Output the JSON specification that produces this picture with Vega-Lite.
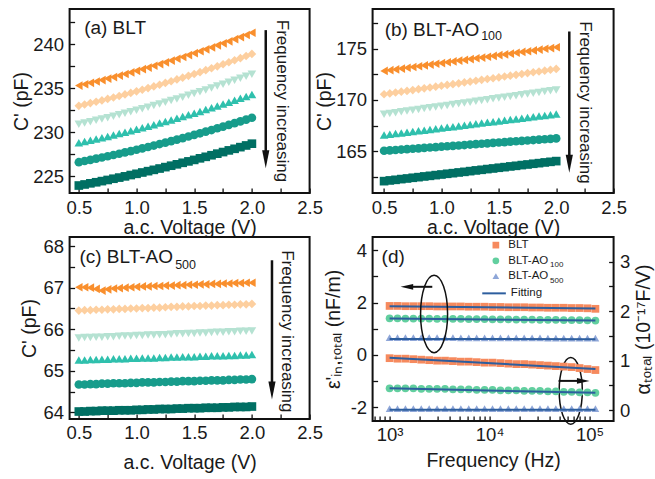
{
"$schema": "https://vega.github.io/schema/vega-lite/v6.json",
"background": "white",
"padding": {"left": 10.6, "top": 8, "right": 0, "bottom": 5},
"config": {
  "font": "Liberation Sans",
  "view": {"stroke": "#111111", "strokeWidth": 2},
  "axis": {"domain": false, "grid": false, "tickSize": 5, "offset": -5, "tickWidth": 1.3, "tickColor": "#111111",
    "labelFont": "Liberation Sans", "labelFontSize": 18.5, "labelColor": "#1a1a1a",
    "labelFlush": false, "labelOverlap": false,
    "titleFont": "Liberation Sans", "titleFontSize": 19.5, "titleFontWeight": "normal", "titleColor": "#1a1a1a", "titlePadding": 4},
  "axisX": {"labelPadding": 5},
  "axisY": {"labelPadding": 6}
},
"datasets": {
"a": [
{"v":0.5,"c":223.95,"s":"1"},{"v":0.55,"c":224.07,"s":"1"},{"v":0.6,"c":224.2,"s":"1"},{"v":0.65,"c":224.32,"s":"1"},{"v":0.7,"c":224.45,"s":"1"},{"v":0.75,"c":224.58,"s":"1"},{"v":0.8,"c":224.72,"s":"1"},{"v":0.85,"c":224.85,"s":"1"},{"v":0.9,"c":224.99,"s":"1"},{"v":0.95,"c":225.14,"s":"1"},{"v":1,"c":225.28,"s":"1"},{"v":1.05,"c":225.43,"s":"1"},{"v":1.1,"c":225.58,"s":"1"},{"v":1.15,"c":225.73,"s":"1"},{"v":1.2,"c":225.88,"s":"1"},{"v":1.25,"c":226.04,"s":"1"},{"v":1.3,"c":226.2,"s":"1"},{"v":1.35,"c":226.36,"s":"1"},{"v":1.4,"c":226.53,"s":"1"},{"v":1.45,"c":226.69,"s":"1"},{"v":1.5,"c":226.86,"s":"1"},{"v":1.55,"c":227.04,"s":"1"},{"v":1.6,"c":227.21,"s":"1"},{"v":1.65,"c":227.39,"s":"1"},{"v":1.7,"c":227.57,"s":"1"},{"v":1.75,"c":227.75,"s":"1"},{"v":1.8,"c":227.94,"s":"1"},{"v":1.85,"c":228.12,"s":"1"},{"v":1.9,"c":228.31,"s":"1"},{"v":1.95,"c":228.5,"s":"1"},{"v":2,"c":228.7,"s":"1"},
{"v":0.5,"c":226.6,"s":"2"},{"v":0.55,"c":226.73,"s":"2"},{"v":0.6,"c":226.86,"s":"2"},{"v":0.65,"c":227.0,"s":"2"},{"v":0.7,"c":227.13,"s":"2"},{"v":0.75,"c":227.27,"s":"2"},{"v":0.8,"c":227.42,"s":"2"},{"v":0.85,"c":227.56,"s":"2"},{"v":0.9,"c":227.71,"s":"2"},{"v":0.95,"c":227.86,"s":"2"},{"v":1,"c":228.01,"s":"2"},{"v":1.05,"c":228.17,"s":"2"},{"v":1.1,"c":228.33,"s":"2"},{"v":1.15,"c":228.49,"s":"2"},{"v":1.2,"c":228.66,"s":"2"},{"v":1.25,"c":228.82,"s":"2"},{"v":1.3,"c":228.99,"s":"2"},{"v":1.35,"c":229.16,"s":"2"},{"v":1.4,"c":229.34,"s":"2"},{"v":1.45,"c":229.52,"s":"2"},{"v":1.5,"c":229.7,"s":"2"},{"v":1.55,"c":229.88,"s":"2"},{"v":1.6,"c":230.07,"s":"2"},{"v":1.65,"c":230.25,"s":"2"},{"v":1.7,"c":230.45,"s":"2"},{"v":1.75,"c":230.64,"s":"2"},{"v":1.8,"c":230.84,"s":"2"},{"v":1.85,"c":231.04,"s":"2"},{"v":1.9,"c":231.24,"s":"2"},{"v":1.95,"c":231.44,"s":"2"},{"v":2,"c":231.65,"s":"2"},
{"v":0.5,"c":228.8,"s":"3"},{"v":0.55,"c":228.94,"s":"3"},{"v":0.6,"c":229.08,"s":"3"},{"v":0.65,"c":229.23,"s":"3"},{"v":0.7,"c":229.38,"s":"3"},{"v":0.75,"c":229.53,"s":"3"},{"v":0.8,"c":229.69,"s":"3"},{"v":0.85,"c":229.85,"s":"3"},{"v":0.9,"c":230.01,"s":"3"},{"v":0.95,"c":230.17,"s":"3"},{"v":1,"c":230.34,"s":"3"},{"v":1.05,"c":230.51,"s":"3"},{"v":1.1,"c":230.68,"s":"3"},{"v":1.15,"c":230.86,"s":"3"},{"v":1.2,"c":231.04,"s":"3"},{"v":1.25,"c":231.22,"s":"3"},{"v":1.3,"c":231.4,"s":"3"},{"v":1.35,"c":231.59,"s":"3"},{"v":1.4,"c":231.78,"s":"3"},{"v":1.45,"c":231.98,"s":"3"},{"v":1.5,"c":232.17,"s":"3"},{"v":1.55,"c":232.37,"s":"3"},{"v":1.6,"c":232.58,"s":"3"},{"v":1.65,"c":232.78,"s":"3"},{"v":1.7,"c":232.99,"s":"3"},{"v":1.75,"c":233.2,"s":"3"},{"v":1.8,"c":233.41,"s":"3"},{"v":1.85,"c":233.63,"s":"3"},{"v":1.9,"c":233.85,"s":"3"},{"v":1.95,"c":234.07,"s":"3"},{"v":2,"c":234.3,"s":"3"},
{"v":0.5,"c":230.9,"s":"4"},{"v":0.55,"c":231.05,"s":"4"},{"v":0.6,"c":231.2,"s":"4"},{"v":0.65,"c":231.35,"s":"4"},{"v":0.7,"c":231.5,"s":"4"},{"v":0.75,"c":231.66,"s":"4"},{"v":0.8,"c":231.82,"s":"4"},{"v":0.85,"c":231.99,"s":"4"},{"v":0.9,"c":232.15,"s":"4"},{"v":0.95,"c":232.32,"s":"4"},{"v":1,"c":232.5,"s":"4"},{"v":1.05,"c":232.67,"s":"4"},{"v":1.1,"c":232.85,"s":"4"},{"v":1.15,"c":233.03,"s":"4"},{"v":1.2,"c":233.22,"s":"4"},{"v":1.25,"c":233.41,"s":"4"},{"v":1.3,"c":233.6,"s":"4"},{"v":1.35,"c":233.79,"s":"4"},{"v":1.4,"c":233.99,"s":"4"},{"v":1.45,"c":234.19,"s":"4"},{"v":1.5,"c":234.4,"s":"4"},{"v":1.55,"c":234.6,"s":"4"},{"v":1.6,"c":234.81,"s":"4"},{"v":1.65,"c":235.03,"s":"4"},{"v":1.7,"c":235.24,"s":"4"},{"v":1.75,"c":235.46,"s":"4"},{"v":1.8,"c":235.68,"s":"4"},{"v":1.85,"c":235.91,"s":"4"},{"v":1.9,"c":236.13,"s":"4"},{"v":1.95,"c":236.37,"s":"4"},{"v":2,"c":236.6,"s":"4"},
{"v":0.5,"c":233.0,"s":"5"},{"v":0.55,"c":233.15,"s":"5"},{"v":0.6,"c":233.31,"s":"5"},{"v":0.65,"c":233.46,"s":"5"},{"v":0.7,"c":233.62,"s":"5"},{"v":0.75,"c":233.79,"s":"5"},{"v":0.8,"c":233.95,"s":"5"},{"v":0.85,"c":234.12,"s":"5"},{"v":0.9,"c":234.3,"s":"5"},{"v":0.95,"c":234.47,"s":"5"},{"v":1,"c":234.65,"s":"5"},{"v":1.05,"c":234.83,"s":"5"},{"v":1.1,"c":235.02,"s":"5"},{"v":1.15,"c":235.21,"s":"5"},{"v":1.2,"c":235.4,"s":"5"},{"v":1.25,"c":235.6,"s":"5"},{"v":1.3,"c":235.79,"s":"5"},{"v":1.35,"c":236.0,"s":"5"},{"v":1.4,"c":236.2,"s":"5"},{"v":1.45,"c":236.41,"s":"5"},{"v":1.5,"c":236.62,"s":"5"},{"v":1.55,"c":236.83,"s":"5"},{"v":1.6,"c":237.05,"s":"5"},{"v":1.65,"c":237.27,"s":"5"},{"v":1.7,"c":237.49,"s":"5"},{"v":1.75,"c":237.72,"s":"5"},{"v":1.8,"c":237.95,"s":"5"},{"v":1.85,"c":238.18,"s":"5"},{"v":1.9,"c":238.42,"s":"5"},{"v":1.95,"c":238.66,"s":"5"},{"v":2,"c":238.9,"s":"5"},
{"v":0.5,"c":235.3,"s":"6"},{"v":0.55,"c":235.45,"s":"6"},{"v":0.6,"c":235.61,"s":"6"},{"v":0.65,"c":235.77,"s":"6"},{"v":0.7,"c":235.93,"s":"6"},{"v":0.75,"c":236.1,"s":"6"},{"v":0.8,"c":236.27,"s":"6"},{"v":0.85,"c":236.44,"s":"6"},{"v":0.9,"c":236.62,"s":"6"},{"v":0.95,"c":236.8,"s":"6"},{"v":1,"c":236.98,"s":"6"},{"v":1.05,"c":237.17,"s":"6"},{"v":1.1,"c":237.35,"s":"6"},{"v":1.15,"c":237.55,"s":"6"},{"v":1.2,"c":237.74,"s":"6"},{"v":1.25,"c":237.94,"s":"6"},{"v":1.3,"c":238.14,"s":"6"},{"v":1.35,"c":238.35,"s":"6"},{"v":1.4,"c":238.55,"s":"6"},{"v":1.45,"c":238.77,"s":"6"},{"v":1.5,"c":238.98,"s":"6"},{"v":1.55,"c":239.2,"s":"6"},{"v":1.6,"c":239.42,"s":"6"},{"v":1.65,"c":239.64,"s":"6"},{"v":1.7,"c":239.87,"s":"6"},{"v":1.75,"c":240.1,"s":"6"},{"v":1.8,"c":240.33,"s":"6"},{"v":1.85,"c":240.57,"s":"6"},{"v":1.9,"c":240.81,"s":"6"},{"v":1.95,"c":241.05,"s":"6"},{"v":2,"c":241.3,"s":"6"}
],
"b": [
{"v":0.5,"c":162.06,"s":"1"},{"v":0.55,"c":162.13,"s":"1"},{"v":0.6,"c":162.19,"s":"1"},{"v":0.65,"c":162.26,"s":"1"},{"v":0.7,"c":162.32,"s":"1"},{"v":0.75,"c":162.39,"s":"1"},{"v":0.8,"c":162.45,"s":"1"},{"v":0.85,"c":162.52,"s":"1"},{"v":0.9,"c":162.58,"s":"1"},{"v":0.95,"c":162.65,"s":"1"},{"v":1,"c":162.71,"s":"1"},{"v":1.05,"c":162.78,"s":"1"},{"v":1.1,"c":162.84,"s":"1"},{"v":1.15,"c":162.91,"s":"1"},{"v":1.2,"c":162.97,"s":"1"},{"v":1.25,"c":163.04,"s":"1"},{"v":1.3,"c":163.11,"s":"1"},{"v":1.35,"c":163.17,"s":"1"},{"v":1.4,"c":163.24,"s":"1"},{"v":1.45,"c":163.3,"s":"1"},{"v":1.5,"c":163.37,"s":"1"},{"v":1.55,"c":163.43,"s":"1"},{"v":1.6,"c":163.5,"s":"1"},{"v":1.65,"c":163.56,"s":"1"},{"v":1.7,"c":163.63,"s":"1"},{"v":1.75,"c":163.69,"s":"1"},{"v":1.8,"c":163.76,"s":"1"},{"v":1.85,"c":163.82,"s":"1"},{"v":1.9,"c":163.89,"s":"1"},{"v":1.95,"c":163.95,"s":"1"},{"v":2,"c":164.02,"s":"1"},
{"v":0.5,"c":165.03,"s":"2"},{"v":0.55,"c":165.07,"s":"2"},{"v":0.6,"c":165.11,"s":"2"},{"v":0.65,"c":165.15,"s":"2"},{"v":0.7,"c":165.19,"s":"2"},{"v":0.75,"c":165.23,"s":"2"},{"v":0.8,"c":165.27,"s":"2"},{"v":0.85,"c":165.31,"s":"2"},{"v":0.9,"c":165.35,"s":"2"},{"v":0.95,"c":165.39,"s":"2"},{"v":1,"c":165.43,"s":"2"},{"v":1.05,"c":165.47,"s":"2"},{"v":1.1,"c":165.51,"s":"2"},{"v":1.15,"c":165.55,"s":"2"},{"v":1.2,"c":165.59,"s":"2"},{"v":1.25,"c":165.64,"s":"2"},{"v":1.3,"c":165.68,"s":"2"},{"v":1.35,"c":165.72,"s":"2"},{"v":1.4,"c":165.76,"s":"2"},{"v":1.45,"c":165.8,"s":"2"},{"v":1.5,"c":165.84,"s":"2"},{"v":1.55,"c":165.88,"s":"2"},{"v":1.6,"c":165.92,"s":"2"},{"v":1.65,"c":165.96,"s":"2"},{"v":1.7,"c":166.0,"s":"2"},{"v":1.75,"c":166.04,"s":"2"},{"v":1.8,"c":166.08,"s":"2"},{"v":1.85,"c":166.12,"s":"2"},{"v":1.9,"c":166.16,"s":"2"},{"v":1.95,"c":166.2,"s":"2"},{"v":2,"c":166.24,"s":"2"},
{"v":0.5,"c":166.57,"s":"3"},{"v":0.55,"c":166.64,"s":"3"},{"v":0.6,"c":166.71,"s":"3"},{"v":0.65,"c":166.78,"s":"3"},{"v":0.7,"c":166.84,"s":"3"},{"v":0.75,"c":166.91,"s":"3"},{"v":0.8,"c":166.98,"s":"3"},{"v":0.85,"c":167.05,"s":"3"},{"v":0.9,"c":167.12,"s":"3"},{"v":0.95,"c":167.19,"s":"3"},{"v":1,"c":167.26,"s":"3"},{"v":1.05,"c":167.33,"s":"3"},{"v":1.1,"c":167.39,"s":"3"},{"v":1.15,"c":167.46,"s":"3"},{"v":1.2,"c":167.53,"s":"3"},{"v":1.25,"c":167.6,"s":"3"},{"v":1.3,"c":167.67,"s":"3"},{"v":1.35,"c":167.74,"s":"3"},{"v":1.4,"c":167.81,"s":"3"},{"v":1.45,"c":167.88,"s":"3"},{"v":1.5,"c":167.94,"s":"3"},{"v":1.55,"c":168.01,"s":"3"},{"v":1.6,"c":168.08,"s":"3"},{"v":1.65,"c":168.15,"s":"3"},{"v":1.7,"c":168.22,"s":"3"},{"v":1.75,"c":168.29,"s":"3"},{"v":1.8,"c":168.36,"s":"3"},{"v":1.85,"c":168.43,"s":"3"},{"v":1.9,"c":168.49,"s":"3"},{"v":1.95,"c":168.56,"s":"3"},{"v":2,"c":168.63,"s":"3"},
{"v":0.5,"c":168.6,"s":"4"},{"v":0.55,"c":168.68,"s":"4"},{"v":0.6,"c":168.76,"s":"4"},{"v":0.65,"c":168.84,"s":"4"},{"v":0.7,"c":168.92,"s":"4"},{"v":0.75,"c":169.0,"s":"4"},{"v":0.8,"c":169.08,"s":"4"},{"v":0.85,"c":169.16,"s":"4"},{"v":0.9,"c":169.23,"s":"4"},{"v":0.95,"c":169.31,"s":"4"},{"v":1,"c":169.39,"s":"4"},{"v":1.05,"c":169.47,"s":"4"},{"v":1.1,"c":169.55,"s":"4"},{"v":1.15,"c":169.63,"s":"4"},{"v":1.2,"c":169.71,"s":"4"},{"v":1.25,"c":169.79,"s":"4"},{"v":1.3,"c":169.87,"s":"4"},{"v":1.35,"c":169.95,"s":"4"},{"v":1.4,"c":170.03,"s":"4"},{"v":1.45,"c":170.11,"s":"4"},{"v":1.5,"c":170.19,"s":"4"},{"v":1.55,"c":170.27,"s":"4"},{"v":1.6,"c":170.35,"s":"4"},{"v":1.65,"c":170.42,"s":"4"},{"v":1.7,"c":170.5,"s":"4"},{"v":1.75,"c":170.58,"s":"4"},{"v":1.8,"c":170.66,"s":"4"},{"v":1.85,"c":170.74,"s":"4"},{"v":1.9,"c":170.82,"s":"4"},{"v":1.95,"c":170.9,"s":"4"},{"v":2,"c":170.98,"s":"4"},
{"v":0.5,"c":170.56,"s":"5"},{"v":0.55,"c":170.64,"s":"5"},{"v":0.6,"c":170.73,"s":"5"},{"v":0.65,"c":170.81,"s":"5"},{"v":0.7,"c":170.89,"s":"5"},{"v":0.75,"c":170.97,"s":"5"},{"v":0.8,"c":171.06,"s":"5"},{"v":0.85,"c":171.14,"s":"5"},{"v":0.9,"c":171.22,"s":"5"},{"v":0.95,"c":171.3,"s":"5"},{"v":1,"c":171.39,"s":"5"},{"v":1.05,"c":171.47,"s":"5"},{"v":1.1,"c":171.55,"s":"5"},{"v":1.15,"c":171.63,"s":"5"},{"v":1.2,"c":171.72,"s":"5"},{"v":1.25,"c":171.8,"s":"5"},{"v":1.3,"c":171.88,"s":"5"},{"v":1.35,"c":171.97,"s":"5"},{"v":1.4,"c":172.05,"s":"5"},{"v":1.45,"c":172.13,"s":"5"},{"v":1.5,"c":172.21,"s":"5"},{"v":1.55,"c":172.3,"s":"5"},{"v":1.6,"c":172.38,"s":"5"},{"v":1.65,"c":172.46,"s":"5"},{"v":1.7,"c":172.54,"s":"5"},{"v":1.75,"c":172.63,"s":"5"},{"v":1.8,"c":172.71,"s":"5"},{"v":1.85,"c":172.79,"s":"5"},{"v":1.9,"c":172.87,"s":"5"},{"v":1.95,"c":172.96,"s":"5"},{"v":2,"c":173.04,"s":"5"},
{"v":0.5,"c":172.84,"s":"6"},{"v":0.55,"c":172.92,"s":"6"},{"v":0.6,"c":172.99,"s":"6"},{"v":0.65,"c":173.07,"s":"6"},{"v":0.7,"c":173.15,"s":"6"},{"v":0.75,"c":173.23,"s":"6"},{"v":0.8,"c":173.3,"s":"6"},{"v":0.85,"c":173.38,"s":"6"},{"v":0.9,"c":173.46,"s":"6"},{"v":0.95,"c":173.54,"s":"6"},{"v":1,"c":173.61,"s":"6"},{"v":1.05,"c":173.69,"s":"6"},{"v":1.1,"c":173.77,"s":"6"},{"v":1.15,"c":173.85,"s":"6"},{"v":1.2,"c":173.92,"s":"6"},{"v":1.25,"c":174.0,"s":"6"},{"v":1.3,"c":174.08,"s":"6"},{"v":1.35,"c":174.15,"s":"6"},{"v":1.4,"c":174.23,"s":"6"},{"v":1.45,"c":174.31,"s":"6"},{"v":1.5,"c":174.39,"s":"6"},{"v":1.55,"c":174.46,"s":"6"},{"v":1.6,"c":174.54,"s":"6"},{"v":1.65,"c":174.62,"s":"6"},{"v":1.7,"c":174.7,"s":"6"},{"v":1.75,"c":174.77,"s":"6"},{"v":1.8,"c":174.85,"s":"6"},{"v":1.85,"c":174.93,"s":"6"},{"v":1.9,"c":175.01,"s":"6"},{"v":1.95,"c":175.08,"s":"6"},{"v":2,"c":175.16,"s":"6"}
],
"c": [
{"v":0.5,"c":64.02,"s":"1"},{"v":0.55,"c":64.02,"s":"1"},{"v":0.6,"c":64.03,"s":"1"},{"v":0.65,"c":64.03,"s":"1"},{"v":0.7,"c":64.04,"s":"1"},{"v":0.75,"c":64.04,"s":"1"},{"v":0.8,"c":64.04,"s":"1"},{"v":0.85,"c":64.05,"s":"1"},{"v":0.9,"c":64.05,"s":"1"},{"v":0.95,"c":64.05,"s":"1"},{"v":1,"c":64.06,"s":"1"},{"v":1.05,"c":64.06,"s":"1"},{"v":1.1,"c":64.07,"s":"1"},{"v":1.15,"c":64.07,"s":"1"},{"v":1.2,"c":64.08,"s":"1"},{"v":1.25,"c":64.08,"s":"1"},{"v":1.3,"c":64.08,"s":"1"},{"v":1.35,"c":64.09,"s":"1"},{"v":1.4,"c":64.09,"s":"1"},{"v":1.45,"c":64.1,"s":"1"},{"v":1.5,"c":64.1,"s":"1"},{"v":1.55,"c":64.1,"s":"1"},{"v":1.6,"c":64.11,"s":"1"},{"v":1.65,"c":64.11,"s":"1"},{"v":1.7,"c":64.11,"s":"1"},{"v":1.75,"c":64.12,"s":"1"},{"v":1.8,"c":64.12,"s":"1"},{"v":1.85,"c":64.13,"s":"1"},{"v":1.9,"c":64.13,"s":"1"},{"v":1.95,"c":64.13,"s":"1"},{"v":2,"c":64.14,"s":"1"},
{"v":0.5,"c":64.67,"s":"2"},{"v":0.55,"c":64.67,"s":"2"},{"v":0.6,"c":64.68,"s":"2"},{"v":0.65,"c":64.68,"s":"2"},{"v":0.7,"c":64.69,"s":"2"},{"v":0.75,"c":64.69,"s":"2"},{"v":0.8,"c":64.7,"s":"2"},{"v":0.85,"c":64.7,"s":"2"},{"v":0.9,"c":64.7,"s":"2"},{"v":0.95,"c":64.71,"s":"2"},{"v":1,"c":64.71,"s":"2"},{"v":1.05,"c":64.72,"s":"2"},{"v":1.1,"c":64.72,"s":"2"},{"v":1.15,"c":64.72,"s":"2"},{"v":1.2,"c":64.73,"s":"2"},{"v":1.25,"c":64.73,"s":"2"},{"v":1.3,"c":64.74,"s":"2"},{"v":1.35,"c":64.74,"s":"2"},{"v":1.4,"c":64.75,"s":"2"},{"v":1.45,"c":64.75,"s":"2"},{"v":1.5,"c":64.75,"s":"2"},{"v":1.55,"c":64.76,"s":"2"},{"v":1.6,"c":64.76,"s":"2"},{"v":1.65,"c":64.77,"s":"2"},{"v":1.7,"c":64.77,"s":"2"},{"v":1.75,"c":64.77,"s":"2"},{"v":1.8,"c":64.78,"s":"2"},{"v":1.85,"c":64.78,"s":"2"},{"v":1.9,"c":64.79,"s":"2"},{"v":1.95,"c":64.79,"s":"2"},{"v":2,"c":64.8,"s":"2"},
{"v":0.5,"c":65.26,"s":"3"},{"v":0.55,"c":65.26,"s":"3"},{"v":0.6,"c":65.27,"s":"3"},{"v":0.65,"c":65.27,"s":"3"},{"v":0.7,"c":65.28,"s":"3"},{"v":0.75,"c":65.28,"s":"3"},{"v":0.8,"c":65.29,"s":"3"},{"v":0.85,"c":65.29,"s":"3"},{"v":0.9,"c":65.29,"s":"3"},{"v":0.95,"c":65.3,"s":"3"},{"v":1,"c":65.3,"s":"3"},{"v":1.05,"c":65.31,"s":"3"},{"v":1.1,"c":65.31,"s":"3"},{"v":1.15,"c":65.31,"s":"3"},{"v":1.2,"c":65.32,"s":"3"},{"v":1.25,"c":65.32,"s":"3"},{"v":1.3,"c":65.33,"s":"3"},{"v":1.35,"c":65.33,"s":"3"},{"v":1.4,"c":65.34,"s":"3"},{"v":1.45,"c":65.34,"s":"3"},{"v":1.5,"c":65.34,"s":"3"},{"v":1.55,"c":65.35,"s":"3"},{"v":1.6,"c":65.35,"s":"3"},{"v":1.65,"c":65.36,"s":"3"},{"v":1.7,"c":65.36,"s":"3"},{"v":1.75,"c":65.36,"s":"3"},{"v":1.8,"c":65.37,"s":"3"},{"v":1.85,"c":65.37,"s":"3"},{"v":1.9,"c":65.38,"s":"3"},{"v":1.95,"c":65.38,"s":"3"},{"v":2,"c":65.39,"s":"3"},
{"v":0.5,"c":65.79,"s":"4"},{"v":0.55,"c":65.8,"s":"4"},{"v":0.6,"c":65.8,"s":"4"},{"v":0.65,"c":65.81,"s":"4"},{"v":0.7,"c":65.81,"s":"4"},{"v":0.75,"c":65.82,"s":"4"},{"v":0.8,"c":65.82,"s":"4"},{"v":0.85,"c":65.83,"s":"4"},{"v":0.9,"c":65.84,"s":"4"},{"v":0.95,"c":65.84,"s":"4"},{"v":1,"c":65.85,"s":"4"},{"v":1.05,"c":65.85,"s":"4"},{"v":1.1,"c":65.86,"s":"4"},{"v":1.15,"c":65.86,"s":"4"},{"v":1.2,"c":65.87,"s":"4"},{"v":1.25,"c":65.87,"s":"4"},{"v":1.3,"c":65.88,"s":"4"},{"v":1.35,"c":65.89,"s":"4"},{"v":1.4,"c":65.89,"s":"4"},{"v":1.45,"c":65.9,"s":"4"},{"v":1.5,"c":65.9,"s":"4"},{"v":1.55,"c":65.91,"s":"4"},{"v":1.6,"c":65.91,"s":"4"},{"v":1.65,"c":65.92,"s":"4"},{"v":1.7,"c":65.93,"s":"4"},{"v":1.75,"c":65.93,"s":"4"},{"v":1.8,"c":65.94,"s":"4"},{"v":1.85,"c":65.94,"s":"4"},{"v":1.9,"c":65.95,"s":"4"},{"v":1.95,"c":65.95,"s":"4"},{"v":2,"c":65.96,"s":"4"},
{"v":0.5,"c":66.45,"s":"5"},{"v":0.55,"c":66.46,"s":"5"},{"v":0.6,"c":66.46,"s":"5"},{"v":0.65,"c":66.47,"s":"5"},{"v":0.7,"c":66.47,"s":"5"},{"v":0.75,"c":66.48,"s":"5"},{"v":0.8,"c":66.48,"s":"5"},{"v":0.85,"c":66.49,"s":"5"},{"v":0.9,"c":66.49,"s":"5"},{"v":0.95,"c":66.5,"s":"5"},{"v":1,"c":66.5,"s":"5"},{"v":1.05,"c":66.51,"s":"5"},{"v":1.1,"c":66.51,"s":"5"},{"v":1.15,"c":66.52,"s":"5"},{"v":1.2,"c":66.52,"s":"5"},{"v":1.25,"c":66.53,"s":"5"},{"v":1.3,"c":66.54,"s":"5"},{"v":1.35,"c":66.54,"s":"5"},{"v":1.4,"c":66.55,"s":"5"},{"v":1.45,"c":66.55,"s":"5"},{"v":1.5,"c":66.56,"s":"5"},{"v":1.55,"c":66.56,"s":"5"},{"v":1.6,"c":66.57,"s":"5"},{"v":1.65,"c":66.57,"s":"5"},{"v":1.7,"c":66.58,"s":"5"},{"v":1.75,"c":66.58,"s":"5"},{"v":1.8,"c":66.59,"s":"5"},{"v":1.85,"c":66.59,"s":"5"},{"v":1.9,"c":66.6,"s":"5"},{"v":1.95,"c":66.6,"s":"5"},{"v":2,"c":66.61,"s":"5"},
{"v":0.5,"c":67.01,"s":"6"},{"v":0.55,"c":67.01,"s":"6"},{"v":0.6,"c":67.0,"s":"6"},{"v":0.65,"c":66.97,"s":"6"},{"v":0.7,"c":66.93,"s":"6"},{"v":0.75,"c":66.96,"s":"6"},{"v":0.8,"c":66.98,"s":"6"},{"v":0.85,"c":66.99,"s":"6"},{"v":0.9,"c":67.0,"s":"6"},{"v":0.95,"c":67.01,"s":"6"},{"v":1,"c":67.02,"s":"6"},{"v":1.05,"c":67.03,"s":"6"},{"v":1.1,"c":67.03,"s":"6"},{"v":1.15,"c":67.04,"s":"6"},{"v":1.2,"c":67.04,"s":"6"},{"v":1.25,"c":67.05,"s":"6"},{"v":1.3,"c":67.05,"s":"6"},{"v":1.35,"c":67.06,"s":"6"},{"v":1.4,"c":67.06,"s":"6"},{"v":1.45,"c":67.07,"s":"6"},{"v":1.5,"c":67.07,"s":"6"},{"v":1.55,"c":67.08,"s":"6"},{"v":1.6,"c":67.08,"s":"6"},{"v":1.65,"c":67.09,"s":"6"},{"v":1.7,"c":67.09,"s":"6"},{"v":1.75,"c":67.1,"s":"6"},{"v":1.8,"c":67.1,"s":"6"},{"v":1.85,"c":67.11,"s":"6"},{"v":1.9,"c":67.11,"s":"6"},{"v":1.95,"c":67.12,"s":"6"},{"v":2,"c":67.12,"s":"6"}
],
"deps": [
{"f":1000,"e":1.87,"s":"BLT"},{"f":1200,"e":1.87,"s":"BLT"},{"f":1440,"e":1.86,"s":"BLT"},{"f":1728,"e":1.86,"s":"BLT"},{"f":2074,"e":1.86,"s":"BLT"},{"f":2488,"e":1.86,"s":"BLT"},{"f":2986,"e":1.85,"s":"BLT"},{"f":3583,"e":1.85,"s":"BLT"},{"f":4300,"e":1.85,"s":"BLT"},{"f":5160,"e":1.85,"s":"BLT"},{"f":6192,"e":1.84,"s":"BLT"},{"f":7430,"e":1.84,"s":"BLT"},{"f":8916,"e":1.84,"s":"BLT"},{"f":10699,"e":1.83,"s":"BLT"},{"f":12839,"e":1.83,"s":"BLT"},{"f":15407,"e":1.82,"s":"BLT"},{"f":18488,"e":1.82,"s":"BLT"},{"f":22186,"e":1.82,"s":"BLT"},{"f":26623,"e":1.81,"s":"BLT"},{"f":31948,"e":1.81,"s":"BLT"},{"f":38338,"e":1.8,"s":"BLT"},{"f":46005,"e":1.8,"s":"BLT"},{"f":55206,"e":1.8,"s":"BLT"},{"f":66247,"e":1.79,"s":"BLT"},{"f":79497,"e":1.79,"s":"BLT"},{"f":95396,"e":1.78,"s":"BLT"},{"f":114475,"e":1.76,"s":"BLT"},
{"f":1000,"e":1.4,"s":"AO100"},{"f":1200,"e":1.4,"s":"AO100"},{"f":1440,"e":1.39,"s":"AO100"},{"f":1728,"e":1.39,"s":"AO100"},{"f":2074,"e":1.39,"s":"AO100"},{"f":2488,"e":1.39,"s":"AO100"},{"f":2986,"e":1.38,"s":"AO100"},{"f":3583,"e":1.38,"s":"AO100"},{"f":4300,"e":1.38,"s":"AO100"},{"f":5160,"e":1.38,"s":"AO100"},{"f":6192,"e":1.37,"s":"AO100"},{"f":7430,"e":1.37,"s":"AO100"},{"f":8916,"e":1.37,"s":"AO100"},{"f":10699,"e":1.36,"s":"AO100"},{"f":12839,"e":1.36,"s":"AO100"},{"f":15407,"e":1.36,"s":"AO100"},{"f":18488,"e":1.35,"s":"AO100"},{"f":22186,"e":1.35,"s":"AO100"},{"f":26623,"e":1.35,"s":"AO100"},{"f":31948,"e":1.34,"s":"AO100"},{"f":38338,"e":1.34,"s":"AO100"},{"f":46005,"e":1.34,"s":"AO100"},{"f":55206,"e":1.33,"s":"AO100"},{"f":66247,"e":1.33,"s":"AO100"},{"f":79497,"e":1.33,"s":"AO100"},{"f":95396,"e":1.32,"s":"AO100"},{"f":114475,"e":1.31,"s":"AO100"},
{"f":1000,"e":0.66,"s":"AO500"},{"f":1200,"e":0.66,"s":"AO500"},{"f":1440,"e":0.66,"s":"AO500"},{"f":1728,"e":0.66,"s":"AO500"},{"f":2074,"e":0.66,"s":"AO500"},{"f":2488,"e":0.66,"s":"AO500"},{"f":2986,"e":0.66,"s":"AO500"},{"f":3583,"e":0.66,"s":"AO500"},{"f":4300,"e":0.66,"s":"AO500"},{"f":5160,"e":0.65,"s":"AO500"},{"f":6192,"e":0.65,"s":"AO500"},{"f":7430,"e":0.65,"s":"AO500"},{"f":8916,"e":0.65,"s":"AO500"},{"f":10699,"e":0.65,"s":"AO500"},{"f":12839,"e":0.65,"s":"AO500"},{"f":15407,"e":0.65,"s":"AO500"},{"f":18488,"e":0.65,"s":"AO500"},{"f":22186,"e":0.65,"s":"AO500"},{"f":26623,"e":0.65,"s":"AO500"},{"f":31948,"e":0.65,"s":"AO500"},{"f":38338,"e":0.64,"s":"AO500"},{"f":46005,"e":0.64,"s":"AO500"},{"f":55206,"e":0.64,"s":"AO500"},{"f":66247,"e":0.64,"s":"AO500"},{"f":79497,"e":0.64,"s":"AO500"},{"f":95396,"e":0.64,"s":"AO500"},{"f":114475,"e":0.64,"s":"AO500"}
],
"dalpha": [
{"f":1000,"a":1.05,"s":"BLT"},{"f":1200,"a":1.04,"s":"BLT"},{"f":1440,"a":1.04,"s":"BLT"},{"f":1728,"a":1.03,"s":"BLT"},{"f":2074,"a":1.02,"s":"BLT"},{"f":2488,"a":1.01,"s":"BLT"},{"f":2986,"a":1.0,"s":"BLT"},{"f":3583,"a":1.0,"s":"BLT"},{"f":4300,"a":0.99,"s":"BLT"},{"f":5160,"a":0.98,"s":"BLT"},{"f":6192,"a":0.98,"s":"BLT"},{"f":7430,"a":0.97,"s":"BLT"},{"f":8916,"a":0.96,"s":"BLT"},{"f":10699,"a":0.96,"s":"BLT"},{"f":12839,"a":0.95,"s":"BLT"},{"f":15407,"a":0.94,"s":"BLT"},{"f":18488,"a":0.93,"s":"BLT"},{"f":22186,"a":0.93,"s":"BLT"},{"f":26623,"a":0.92,"s":"BLT"},{"f":31948,"a":0.91,"s":"BLT"},{"f":38338,"a":0.9,"s":"BLT"},{"f":46005,"a":0.89,"s":"BLT"},{"f":55206,"a":0.88,"s":"BLT"},{"f":66247,"a":0.87,"s":"BLT"},{"f":79497,"a":0.85,"s":"BLT"},{"f":95396,"a":0.83,"s":"BLT"},{"f":114475,"a":0.81,"s":"BLT"},
{"f":1000,"a":0.44,"s":"AO100"},{"f":1200,"a":0.44,"s":"AO100"},{"f":1440,"a":0.44,"s":"AO100"},{"f":1728,"a":0.44,"s":"AO100"},{"f":2074,"a":0.43,"s":"AO100"},{"f":2488,"a":0.43,"s":"AO100"},{"f":2986,"a":0.43,"s":"AO100"},{"f":3583,"a":0.43,"s":"AO100"},{"f":4300,"a":0.42,"s":"AO100"},{"f":5160,"a":0.42,"s":"AO100"},{"f":6192,"a":0.42,"s":"AO100"},{"f":7430,"a":0.41,"s":"AO100"},{"f":8916,"a":0.41,"s":"AO100"},{"f":10699,"a":0.41,"s":"AO100"},{"f":12839,"a":0.4,"s":"AO100"},{"f":15407,"a":0.4,"s":"AO100"},{"f":18488,"a":0.4,"s":"AO100"},{"f":22186,"a":0.39,"s":"AO100"},{"f":26623,"a":0.39,"s":"AO100"},{"f":31948,"a":0.39,"s":"AO100"},{"f":38338,"a":0.38,"s":"AO100"},{"f":46005,"a":0.38,"s":"AO100"},{"f":55206,"a":0.37,"s":"AO100"},{"f":66247,"a":0.37,"s":"AO100"},{"f":79497,"a":0.36,"s":"AO100"},{"f":95396,"a":0.36,"s":"AO100"},{"f":114475,"a":0.35,"s":"AO100"},
{"f":1000,"a":0.03,"s":"AO500"},{"f":1200,"a":0.03,"s":"AO500"},{"f":1440,"a":0.03,"s":"AO500"},{"f":1728,"a":0.03,"s":"AO500"},{"f":2074,"a":0.03,"s":"AO500"},{"f":2488,"a":0.03,"s":"AO500"},{"f":2986,"a":0.03,"s":"AO500"},{"f":3583,"a":0.03,"s":"AO500"},{"f":4300,"a":0.03,"s":"AO500"},{"f":5160,"a":0.03,"s":"AO500"},{"f":6192,"a":0.03,"s":"AO500"},{"f":7430,"a":0.03,"s":"AO500"},{"f":8916,"a":0.03,"s":"AO500"},{"f":10699,"a":0.03,"s":"AO500"},{"f":12839,"a":0.03,"s":"AO500"},{"f":15407,"a":0.03,"s":"AO500"},{"f":18488,"a":0.03,"s":"AO500"},{"f":22186,"a":0.03,"s":"AO500"},{"f":26623,"a":0.03,"s":"AO500"},{"f":31948,"a":0.03,"s":"AO500"},{"f":38338,"a":0.03,"s":"AO500"},{"f":46005,"a":0.03,"s":"AO500"},{"f":55206,"a":0.03,"s":"AO500"},{"f":66247,"a":0.03,"s":"AO500"},{"f":79497,"a":0.03,"s":"AO500"},{"f":95396,"a":0.03,"s":"AO500"},{"f":114475,"a":0.03,"s":"AO500"}
],
"fitEps": [
{"f":1000,"e":1.86,"s":"BLT"},{"f":114475,"e":1.77,"s":"BLT"},
{"f":1000,"e":1.39,"s":"AO100"},{"f":114475,"e":1.31,"s":"AO100"},
{"f":1000,"e":0.61,"s":"AO500"},{"f":114475,"e":0.6,"s":"AO500"}
],
"fitAlpha": [
{"f":1000,"a":1.06,"s":"BLT"},{"f":114475,"a":0.83,"s":"BLT"},
{"f":1000,"a":0.44,"s":"AO100"},{"f":114475,"a":0.35,"s":"AO100"},
{"f":1000,"a":0.005,"s":"AO500"},{"f":114475,"a":0.005,"s":"AO500"}
]
},
"columns": 2,
"spacing": {"row": 44, "column": 63},
"bounds": "flush",
"resolve": {"scale": {"color": "independent", "shape": "independent"}},
"concat": [
{
 "width": 240, "height": 184,
 "layer": [
  {"data": {"name": "a"}, "mark": {"type": "point", "filled": true, "opacity": 1, "size": 75},
   "encoding": {
    "x": {"field": "v", "type": "quantitative", "scale": {"domain": [0.42, 2.5], "nice": false, "zero": false},
          "axis": {"title": "a.c. Voltage (V)", "offset": -5, "tickCount": 100, "labelOverlap": false, "values": [0.5,0.75,1,1.25,1.5,1.75,2,2.25,2.5], "labelExpr": "(datum.value*4)%2==0 ? format(datum.value,'.1f') : ''", "titlePadding": 2}},
    "y": {"field": "c", "type": "quantitative", "scale": {"domain": [223.1, 244], "nice": false, "zero": false},
          "axis": {"title": "C' (pF)", "offset": -5, "tickCount": 100, "labelOverlap": false, "values": [225,227.5,230,232.5,235,237.5,240,242.5], "labelExpr": "datum.value%5==0 ? format(datum.value,'d') : ''", "titlePadding": 1}},
    "shape": {"field": "s", "type": "nominal", "scale": {"domain": ["1","2","3","4","5","6"], "range": ["square","circle","triangle-up","triangle-down","diamond","triangle-left"]}, "legend": null},
    "color": {"field": "s", "type": "nominal", "scale": {"domain": ["1","2","3","4","5","6"], "range": ["#006f63","#179c8b","#2fc0ad","#b5e2d2","#fdcf9f","#f98f2d"]}, "legend": null}
   }},
  {"data": {"values": [{}]}, "mark": {"type": "rule", "strokeWidth": 2.5, "color": "#111111"},
   "encoding": {"x": {"datum": 2.12, "type": "quantitative", "scale": {"domain": [0.42, 2.5], "nice": false, "zero": false}},
                "y": {"datum": 241.6, "type": "quantitative", "scale": {"domain": [223.1, 244], "nice": false, "zero": false}},
                "y2": {"datum": 227.0}}},
  {"data": {"values": [{}]}, "mark": {"type": "point", "shape": "M -0.4 -2 L 0.4 -2 L 0 0 Z", "size": 324, "filled": true, "opacity": 1, "color": "#111111"},
   "encoding": {"x": {"datum": 2.12, "type": "quantitative", "scale": {"domain": [0.42, 2.5], "nice": false, "zero": false}},
                "y": {"datum": 225.9, "type": "quantitative", "scale": {"domain": [223.1, 244], "nice": false, "zero": false}}}},
  {"data": {"values": [{}]}, "mark": {"type": "text", "text": "Frequency increasing", "angle": 90, "fontSize": 17, "align": "center", "baseline": "middle", "color": "#1a1a1a"},
   "encoding": {"x": {"datum": 2.258, "type": "quantitative", "scale": {"domain": [0.42, 2.5], "nice": false, "zero": false}},
                "y": {"datum": 233.55, "type": "quantitative", "scale": {"domain": [223.1, 244], "nice": false, "zero": false}}}},
  {"data": {"values": [{}]}, "mark": {"type": "text", "text": "(a) BLT", "fontSize": 19, "align": "left", "baseline": "alphabetic", "color": "#1a1a1a"},
   "encoding": {"x": {"datum": 0.546, "type": "quantitative", "scale": {"domain": [0.42, 2.5], "nice": false, "zero": false}},
                "y": {"datum": 241.2, "type": "quantitative", "scale": {"domain": [223.1, 244], "nice": false, "zero": false}}}}
 ]
},
{
 "width": 241, "height": 184,
 "layer": [
  {"data": {"name": "b"}, "mark": {"type": "point", "filled": true, "opacity": 1, "size": 75},
   "encoding": {
    "x": {"field": "v", "type": "quantitative", "scale": {"domain": [0.4, 2.5], "nice": false, "zero": false},
          "axis": {"title": "a.c. Voltage (V)", "offset": -5, "tickCount": 100, "labelOverlap": false, "values": [0.5,0.75,1,1.25,1.5,1.75,2,2.25,2.5], "labelExpr": "(datum.value*4)%2==0 ? format(datum.value,'.1f') : ''", "titlePadding": 2}},
    "y": {"field": "c", "type": "quantitative", "scale": {"domain": [160.9, 178.9], "nice": false, "zero": false},
          "axis": {"title": "C' (pF)", "offset": -5, "tickCount": 100, "labelOverlap": false, "values": [162.5,165,167.5,170,172.5,175,177.5], "labelExpr": "datum.value%5==0 ? format(datum.value,'d') : ''", "titlePadding": 1}},
    "shape": {"field": "s", "type": "nominal", "scale": {"domain": ["1","2","3","4","5","6"], "range": ["square","circle","triangle-up","triangle-down","diamond","triangle-left"]}, "legend": null},
    "color": {"field": "s", "type": "nominal", "scale": {"domain": ["1","2","3","4","5","6"], "range": ["#006f63","#179c8b","#2fc0ad","#b5e2d2","#fdcf9f","#f98f2d"]}, "legend": null}
   }},
  {"data": {"values": [{}]}, "mark": {"type": "rule", "strokeWidth": 2.5, "color": "#111111"},
   "encoding": {"x": {"datum": 2.114, "type": "quantitative", "scale": {"domain": [0.4, 2.5], "nice": false, "zero": false}},
                "y": {"datum": 176.7, "type": "quantitative", "scale": {"domain": [160.9, 178.9], "nice": false, "zero": false}},
                "y2": {"datum": 163.85}}},
  {"data": {"values": [{}]}, "mark": {"type": "point", "shape": "M -0.4 -2 L 0.4 -2 L 0 0 Z", "size": 324, "filled": true, "opacity": 1, "color": "#111111"},
   "encoding": {"x": {"datum": 2.114, "type": "quantitative", "scale": {"domain": [0.4, 2.5], "nice": false, "zero": false}},
                "y": {"datum": 162.87, "type": "quantitative", "scale": {"domain": [160.9, 178.9], "nice": false, "zero": false}}}},
  {"data": {"values": [{}]}, "mark": {"type": "text", "text": "Frequency increasing", "angle": 90, "fontSize": 17, "align": "center", "baseline": "middle", "color": "#1a1a1a"},
   "encoding": {"x": {"datum": 2.255, "type": "quantitative", "scale": {"domain": [0.4, 2.5], "nice": false, "zero": false}},
                "y": {"datum": 169.75, "type": "quantitative", "scale": {"domain": [160.9, 178.9], "nice": false, "zero": false}}}},
  {"data": {"values": [{}]}, "mark": {"type": "text", "text": "(b) BLT-AO", "fontSize": 19, "align": "left", "baseline": "alphabetic", "color": "#1a1a1a"},
   "encoding": {"x": {"datum": 0.505, "type": "quantitative", "scale": {"domain": [0.4, 2.5], "nice": false, "zero": false}},
                "y": {"datum": 176.3, "type": "quantitative", "scale": {"domain": [160.9, 178.9], "nice": false, "zero": false}}}},
  {"data": {"values": [{}]}, "mark": {"type": "text", "text": "100", "fontSize": 12.5, "align": "left", "baseline": "alphabetic", "color": "#1a1a1a"},
   "encoding": {"x": {"datum": 1.346, "type": "quantitative", "scale": {"domain": [0.4, 2.5], "nice": false, "zero": false}},
                "y": {"datum": 175.88, "type": "quantitative", "scale": {"domain": [160.9, 178.9], "nice": false, "zero": false}}}}
 ]
},
{
 "width": 240, "height": 182,
 "layer": [
  {"data": {"name": "c"}, "mark": {"type": "point", "filled": true, "opacity": 1, "size": 75},
   "encoding": {
    "x": {"field": "v", "type": "quantitative", "scale": {"domain": [0.42, 2.5], "nice": false, "zero": false},
          "axis": {"title": "a.c. Voltage (V)", "offset": -5, "tickCount": 100, "labelOverlap": false, "values": [0.5,0.75,1,1.25,1.5,1.75,2,2.25,2.5], "labelExpr": "(datum.value*4)%2==0 ? format(datum.value,'.1f') : ''", "titlePadding": 11}},
    "y": {"field": "c", "type": "quantitative", "scale": {"domain": [63.84, 68.22], "nice": false, "zero": false},
          "axis": {"title": "C' (pF)", "offset": -5, "tickCount": 100, "labelOverlap": false, "values": [64,64.5,65,65.5,66,66.5,67,67.5,68], "labelExpr": "datum.value%1==0 ? format(datum.value,'d') : ''", "titlePadding": 4}},
    "shape": {"field": "s", "type": "nominal", "scale": {"domain": ["1","2","3","4","5","6"], "range": ["square","circle","triangle-up","triangle-down","diamond","triangle-left"]}, "legend": null},
    "color": {"field": "s", "type": "nominal", "scale": {"domain": ["1","2","3","4","5","6"], "range": ["#006f63","#179c8b","#2fc0ad","#b5e2d2","#fdcf9f","#f98f2d"]}, "legend": null}
   }},
  {"data": {"values": [{}]}, "mark": {"type": "rule", "strokeWidth": 2.5, "color": "#111111"},
   "encoding": {"x": {"datum": 2.174, "type": "quantitative", "scale": {"domain": [0.42, 2.5], "nice": false, "zero": false}},
                "y": {"datum": 67.66, "type": "quantitative", "scale": {"domain": [63.84, 68.22], "nice": false, "zero": false}},
                "y2": {"datum": 64.55}}},
  {"data": {"values": [{}]}, "mark": {"type": "point", "shape": "M -0.4 -2 L 0.4 -2 L 0 0 Z", "size": 324, "filled": true, "opacity": 1, "color": "#111111"},
   "encoding": {"x": {"datum": 2.174, "type": "quantitative", "scale": {"domain": [0.42, 2.5], "nice": false, "zero": false}},
                "y": {"datum": 64.31, "type": "quantitative", "scale": {"domain": [63.84, 68.22], "nice": false, "zero": false}}}},
  {"data": {"values": [{}]}, "mark": {"type": "text", "text": "Frequency increasing", "angle": 90, "fontSize": 17, "align": "center", "baseline": "middle", "color": "#1a1a1a"},
   "encoding": {"x": {"datum": 2.307, "type": "quantitative", "scale": {"domain": [0.42, 2.5], "nice": false, "zero": false}},
                "y": {"datum": 65.95, "type": "quantitative", "scale": {"domain": [63.84, 68.22], "nice": false, "zero": false}}}},
  {"data": {"values": [{}]}, "mark": {"type": "text", "text": "(c) BLT-AO", "fontSize": 19, "align": "left", "baseline": "alphabetic", "color": "#1a1a1a"},
   "encoding": {"x": {"datum": 0.505, "type": "quantitative", "scale": {"domain": [0.42, 2.5], "nice": false, "zero": false}},
                "y": {"datum": 67.6, "type": "quantitative", "scale": {"domain": [63.84, 68.22], "nice": false, "zero": false}}}},
  {"data": {"values": [{}]}, "mark": {"type": "text", "text": "500", "fontSize": 12.5, "align": "left", "baseline": "alphabetic", "color": "#1a1a1a"},
   "encoding": {"x": {"datum": 1.335, "type": "quantitative", "scale": {"domain": [0.42, 2.5], "nice": false, "zero": false}},
                "y": {"datum": 67.455, "type": "quantitative", "scale": {"domain": [63.84, 68.22], "nice": false, "zero": false}}}}
 ]
},
{
 "width": 241, "height": 184,
 "resolve": {"scale": {"y": "independent"}},
 "layer": [
  {"layer": [
    {"data": {"name": "deps"}, "mark": {"type": "point", "filled": true, "opacity": 1, "size": 60},
     "encoding": {
      "x": {"field": "f", "type": "quantitative", "scale": {"type": "log", "domain": [676, 174000], "nice": false},
            "axis": {"title": "Frequency (Hz)", "offset": -5, "tickCount": 100, "labelOverlap": false, "values": [700,800,900,1000,2000,3000,4000,5000,6000,7000,8000,9000,10000,20000,30000,40000,50000,60000,70000,80000,90000,100000], "labelExpr": "datum.value==1000 ? '10³' : datum.value==10000 ? '10⁴' : datum.value==100000 ? '10⁵' : ''", "titlePadding": 7}},
      "y": {"field": "e", "type": "quantitative", "scale": {"domain": [-2.52, 4.5], "nice": false, "zero": false},
            "axis": {"title": "ε'ᵢₙ,ₜₒₜₐₗ (nF/m)", "offset": -5, "tickCount": 100, "labelOverlap": false, "values": [-2,-1,0,1,2,3,4], "labelExpr": "datum.value%2==0 ? (datum.value<0 ? '-'+abs(datum.value) : ''+datum.value) : ''", "titlePadding": 7}},
      "shape": {"field": "s", "type": "nominal", "scale": {"domain": ["BLT","AO100","AO500"], "range": ["square","circle","triangle-up"]}, "legend": null},
      "color": {"field": "s", "type": "nominal", "scale": {"domain": ["BLT","AO100","AO500"], "range": ["#f68a5e","#62cf9f","#8ea6d8"]}, "legend": null}
     }},
    {"data": {"name": "fitEps"}, "mark": {"type": "line", "strokeWidth": 2, "color": "#2d5e9e"},
     "encoding": {
      "x": {"field": "f", "type": "quantitative", "scale": {"type": "log", "domain": [676, 174000], "nice": false}},
      "y": {"field": "e", "type": "quantitative", "scale": {"domain": [-2.52, 4.5], "nice": false, "zero": false}},
      "detail": {"field": "s", "type": "nominal"}
     }},
    {"data": {"values": [{}]}, "mark": {"type": "point", "shape": "square", "size": 45, "filled": true, "opacity": 1, "color": "#f68a5e"},
     "encoding": {"x": {"datum": 11560, "type": "quantitative", "scale": {"type": "log", "domain": [676, 174000], "nice": false}},
                  "y": {"datum": 4.19, "type": "quantitative", "scale": {"domain": [-2.52, 4.5], "nice": false, "zero": false}}}},
    {"data": {"values": [{}]}, "mark": {"type": "point", "shape": "circle", "size": 45, "filled": true, "opacity": 1, "color": "#62cf9f"},
     "encoding": {"x": {"datum": 11560, "type": "quantitative", "scale": {"type": "log", "domain": [676, 174000], "nice": false}},
                  "y": {"datum": 3.59, "type": "quantitative", "scale": {"domain": [-2.52, 4.5], "nice": false, "zero": false}}}},
    {"data": {"values": [{}]}, "mark": {"type": "point", "shape": "triangle-up", "size": 45, "filled": true, "opacity": 1, "color": "#8ea6d8"},
     "encoding": {"x": {"datum": 11560, "type": "quantitative", "scale": {"type": "log", "domain": [676, 174000], "nice": false}},
                  "y": {"datum": 3.01, "type": "quantitative", "scale": {"domain": [-2.52, 4.5], "nice": false, "zero": false}}}},
    {"data": {"values": [{}]}, "mark": {"type": "rule", "strokeWidth": 2, "color": "#2d5e9e"},
     "encoding": {"x": {"datum": 8450, "type": "quantitative", "scale": {"type": "log", "domain": [676, 174000], "nice": false}},
                  "x2": {"datum": 14550},
                  "y": {"datum": 2.35, "type": "quantitative", "scale": {"domain": [-2.52, 4.5], "nice": false, "zero": false}}}},
    {"data": {"values": [{}]}, "mark": {"type": "text", "text": "BLT", "fontSize": 11.5, "align": "left", "baseline": "middle", "color": "#1a1a1a"},
     "encoding": {"x": {"datum": 15380, "type": "quantitative", "scale": {"type": "log", "domain": [676, 174000], "nice": false}},
                  "y": {"datum": 4.19, "type": "quantitative", "scale": {"domain": [-2.52, 4.5], "nice": false, "zero": false}}}},
    {"data": {"values": [{}]}, "mark": {"type": "text", "text": "BLT-AO", "fontSize": 11.5, "align": "left", "baseline": "middle", "color": "#1a1a1a"},
     "encoding": {"x": {"datum": 15380, "type": "quantitative", "scale": {"type": "log", "domain": [676, 174000], "nice": false}},
                  "y": {"datum": 3.59, "type": "quantitative", "scale": {"domain": [-2.52, 4.5], "nice": false, "zero": false}}}},
    {"data": {"values": [{}]}, "mark": {"type": "text", "text": "100", "fontSize": 8, "align": "left", "baseline": "alphabetic", "color": "#1a1a1a"},
     "encoding": {"x": {"datum": 40270, "type": "quantitative", "scale": {"type": "log", "domain": [676, 174000], "nice": false}},
                  "y": {"datum": 3.36, "type": "quantitative", "scale": {"domain": [-2.52, 4.5], "nice": false, "zero": false}}}},
    {"data": {"values": [{}]}, "mark": {"type": "text", "text": "BLT-AO", "fontSize": 11.5, "align": "left", "baseline": "middle", "color": "#1a1a1a"},
     "encoding": {"x": {"datum": 15380, "type": "quantitative", "scale": {"type": "log", "domain": [676, 174000], "nice": false}},
                  "y": {"datum": 3.01, "type": "quantitative", "scale": {"domain": [-2.52, 4.5], "nice": false, "zero": false}}}},
    {"data": {"values": [{}]}, "mark": {"type": "text", "text": "500", "fontSize": 8, "align": "left", "baseline": "alphabetic", "color": "#1a1a1a"},
     "encoding": {"x": {"datum": 40270, "type": "quantitative", "scale": {"type": "log", "domain": [676, 174000], "nice": false}},
                  "y": {"datum": 2.73, "type": "quantitative", "scale": {"domain": [-2.52, 4.5], "nice": false, "zero": false}}}},
    {"data": {"values": [{}]}, "mark": {"type": "text", "text": "Fitting", "fontSize": 11.5, "align": "left", "baseline": "middle", "color": "#1a1a1a"},
     "encoding": {"x": {"datum": 16330, "type": "quantitative", "scale": {"type": "log", "domain": [676, 174000], "nice": false}},
                  "y": {"datum": 2.35, "type": "quantitative", "scale": {"domain": [-2.52, 4.5], "nice": false, "zero": false}}}},
    {"data": {"values": [{}]}, "mark": {"type": "text", "text": "(d)", "fontSize": 19, "align": "left", "baseline": "alphabetic", "color": "#1a1a1a"},
     "encoding": {"x": {"datum": 832, "type": "quantitative", "scale": {"type": "log", "domain": [676, 174000], "nice": false}},
                  "y": {"datum": 3.49, "type": "quantitative", "scale": {"domain": [-2.52, 4.5], "nice": false, "zero": false}}}},
    {"data": {"values": [{}]}, "mark": {"type": "rule", "strokeWidth": 2, "color": "#111111"},
     "encoding": {"x": {"datum": 1549, "type": "quantitative", "scale": {"type": "log", "domain": [676, 174000], "nice": false}},
                  "x2": {"datum": 2673},
                  "y": {"datum": 2.6, "type": "quantitative", "scale": {"domain": [-2.52, 4.5], "nice": false, "zero": false}}}},
    {"data": {"values": [{}]}, "mark": {"type": "point", "shape": "M 0 0 L 2 -0.45 L 2 0.45 Z", "size": 159, "filled": true, "opacity": 1, "color": "#111111"},
     "encoding": {"x": {"datum": 1288, "type": "quantitative", "scale": {"type": "log", "domain": [676, 174000], "nice": false}},
                  "y": {"datum": 2.6, "type": "quantitative", "scale": {"domain": [-2.52, 4.5], "nice": false, "zero": false}}}},
    {"data": {"values": [{}]}, "mark": {"type": "rule", "strokeWidth": 2, "color": "#111111"},
     "encoding": {"x": {"datum": 48980, "type": "quantitative", "scale": {"type": "log", "domain": [676, 174000], "nice": false}},
                  "x2": {"datum": 83180},
                  "y": {"datum": -0.99, "type": "quantitative", "scale": {"domain": [-2.52, 4.5], "nice": false, "zero": false}}}},
    {"data": {"values": [{}]}, "mark": {"type": "point", "shape": "M 0 0 L -2 -0.45 L -2 0.45 Z", "size": 159, "filled": true, "opacity": 1, "color": "#111111"},
     "encoding": {"x": {"datum": 100000, "type": "quantitative", "scale": {"type": "log", "domain": [676, 174000], "nice": false}},
                  "y": {"datum": -0.99, "type": "quantitative", "scale": {"domain": [-2.52, 4.5], "nice": false, "zero": false}}}},
    {"data": {"values": [{}]}, "mark": {"type": "point", "shape": "M 0 -1 C 0.192 -1 0.348 -0.552 0.348 0 C 0.348 0.552 0.192 1 0 1 C -0.192 1 -0.348 0.552 -0.348 0 C -0.348 -0.552 -0.192 -1 0 -1 Z", "size": 6022, "filled": false, "opacity": 1, "color": "#111111", "strokeWidth": 1.5},
     "encoding": {"x": {"datum": 2786, "type": "quantitative", "scale": {"type": "log", "domain": [676, 174000], "nice": false}},
                  "y": {"datum": 1.565, "type": "quantitative", "scale": {"domain": [-2.52, 4.5], "nice": false, "zero": false}}}},
    {"data": {"values": [{}]}, "mark": {"type": "point", "shape": "M 0 -1 C 0.192 -1 0.348 -0.552 0.348 0 C 0.348 0.552 0.192 1 0 1 C -0.192 1 -0.348 0.552 -0.348 0 C -0.348 -0.552 -0.192 -1 0 -1 Z", "size": 4436, "filled": false, "opacity": 1, "color": "#111111", "strokeWidth": 1.5},
     "encoding": {"x": {"datum": 64860, "type": "quantitative", "scale": {"type": "log", "domain": [676, 174000], "nice": false}},
                  "y": {"datum": -1.37, "type": "quantitative", "scale": {"domain": [-2.52, 4.5], "nice": false, "zero": false}}}}
  ]},
  {"layer": [
    {"data": {"name": "dalpha"}, "mark": {"type": "point", "filled": true, "opacity": 1, "size": 60},
     "encoding": {
      "x": {"field": "f", "type": "quantitative", "scale": {"type": "log", "domain": [676, 174000], "nice": false}},
      "y": {"field": "a", "type": "quantitative", "scale": {"domain": [-0.22, 3.5], "nice": false, "zero": false},
            "axis": {"orient": "right", "offset": -5, "tickCount": 100, "labelOverlap": false, "title": "αₜₒₜₐₗ (10⁻¹⁷F/V)", "titleAngle": 270, "titleBaseline": "top", "titlePadding": 5, "values": [0,0.5,1,1.5,2,2.5,3], "labelExpr": "datum.value%1==0 ? ''+datum.value : ''"}},
      "shape": {"field": "s", "type": "nominal", "scale": {"domain": ["BLT","AO100","AO500"], "range": ["square","circle","triangle-up"]}, "legend": null},
      "color": {"field": "s", "type": "nominal", "scale": {"domain": ["BLT","AO100","AO500"], "range": ["#f68a5e","#62cf9f","#8ea6d8"]}, "legend": null}
     }},
    {"data": {"name": "fitAlpha"}, "mark": {"type": "line", "strokeWidth": 2, "color": "#2d5e9e"},
     "encoding": {
      "x": {"field": "f", "type": "quantitative", "scale": {"type": "log", "domain": [676, 174000], "nice": false}},
      "y": {"field": "a", "type": "quantitative", "scale": {"domain": [-0.22, 3.5], "nice": false, "zero": false}},
      "detail": {"field": "s", "type": "nominal"}
     }}
  ]}
 ]
}
]
}
